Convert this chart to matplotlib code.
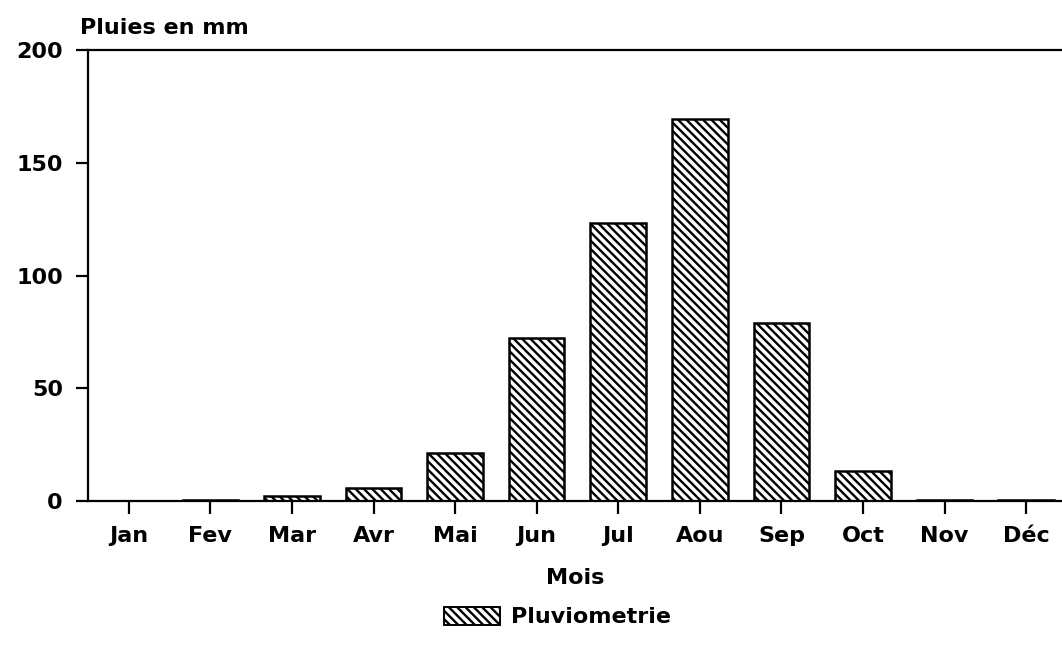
import numpy as np
import matplotlib.pyplot as plt
from matplotlib.patches import Patch

# Données
mois = ['Jan', 'Fev', 'Mar', 'Avr', 'Mai', 'Jun', 'Jul', 'Aou', 'Sep', 'Oct', 'Nov', 'Déc']
pluies = [0.2, 0.3, 2.0, 5.8, 21.3, 72.3, 123.5, 169.4, 79.0, 13.4, 0.5, 0.6]
yticks = [0, 50, 100, 150, 200]

plt.rcParams['font.family'] = ['DejaVu Sans']
plt.rcParams['font.weight'] = 'bold'
plt.rcParams['hatch.linewidth'] = 1.7
plt.rcParams['hatch.color'] = 'black'

fs = 16
fig = plt.figure(figsize=(10.62, 6.6), dpi=100)
ax = fig.add_axes([88/1062, (660-501)/660, (1062-88)/1062, 451/660])

x = np.arange(len(mois))
ax.bar(x, pluies, width=0.68, facecolor='white', edgecolor='black',
       linewidth=1.8, hatch='\\\\\\\\')

ax.set_xlim(-0.5, 11.44)
ax.set_ylim(0, 200)
ax.set_yticks(yticks)
ax.set_xticks(x)
ax.set_xticklabels(mois)

for s in ['left', 'bottom', 'top']:
    ax.spines[s].set_linewidth(1.6)
ax.spines['right'].set_visible(False)

ax.tick_params(axis='both', direction='out', width=1.6, length=9,
               labelsize=fs)
ax.tick_params(axis='y', pad=9)
ax.tick_params(axis='x', pad=9)
for lab in ax.get_xticklabels() + ax.get_yticklabels():
    lab.set_fontweight('bold')

fig.text(80/1062, 1 - 28/660, 'Pluies en mm', fontsize=fs, fontweight='bold',
         va='center', ha='left')
ax.set_xlabel('Mois', fontsize=fs, fontweight='bold', labelpad=16)

handle = Patch(facecolor='white', edgecolor='black', hatch='\\\\\\\\', linewidth=1.4)
fig.legend([handle], ['Pluviometrie'], loc='center left',
           bbox_to_anchor=(424/1062, 1 - 617/660),
           frameon=False, handlelength=2.5, handleheight=0.9,
           handletextpad=0.5, prop={'weight': 'bold', 'size': fs})

fig.savefig('out.png', dpi=100)
